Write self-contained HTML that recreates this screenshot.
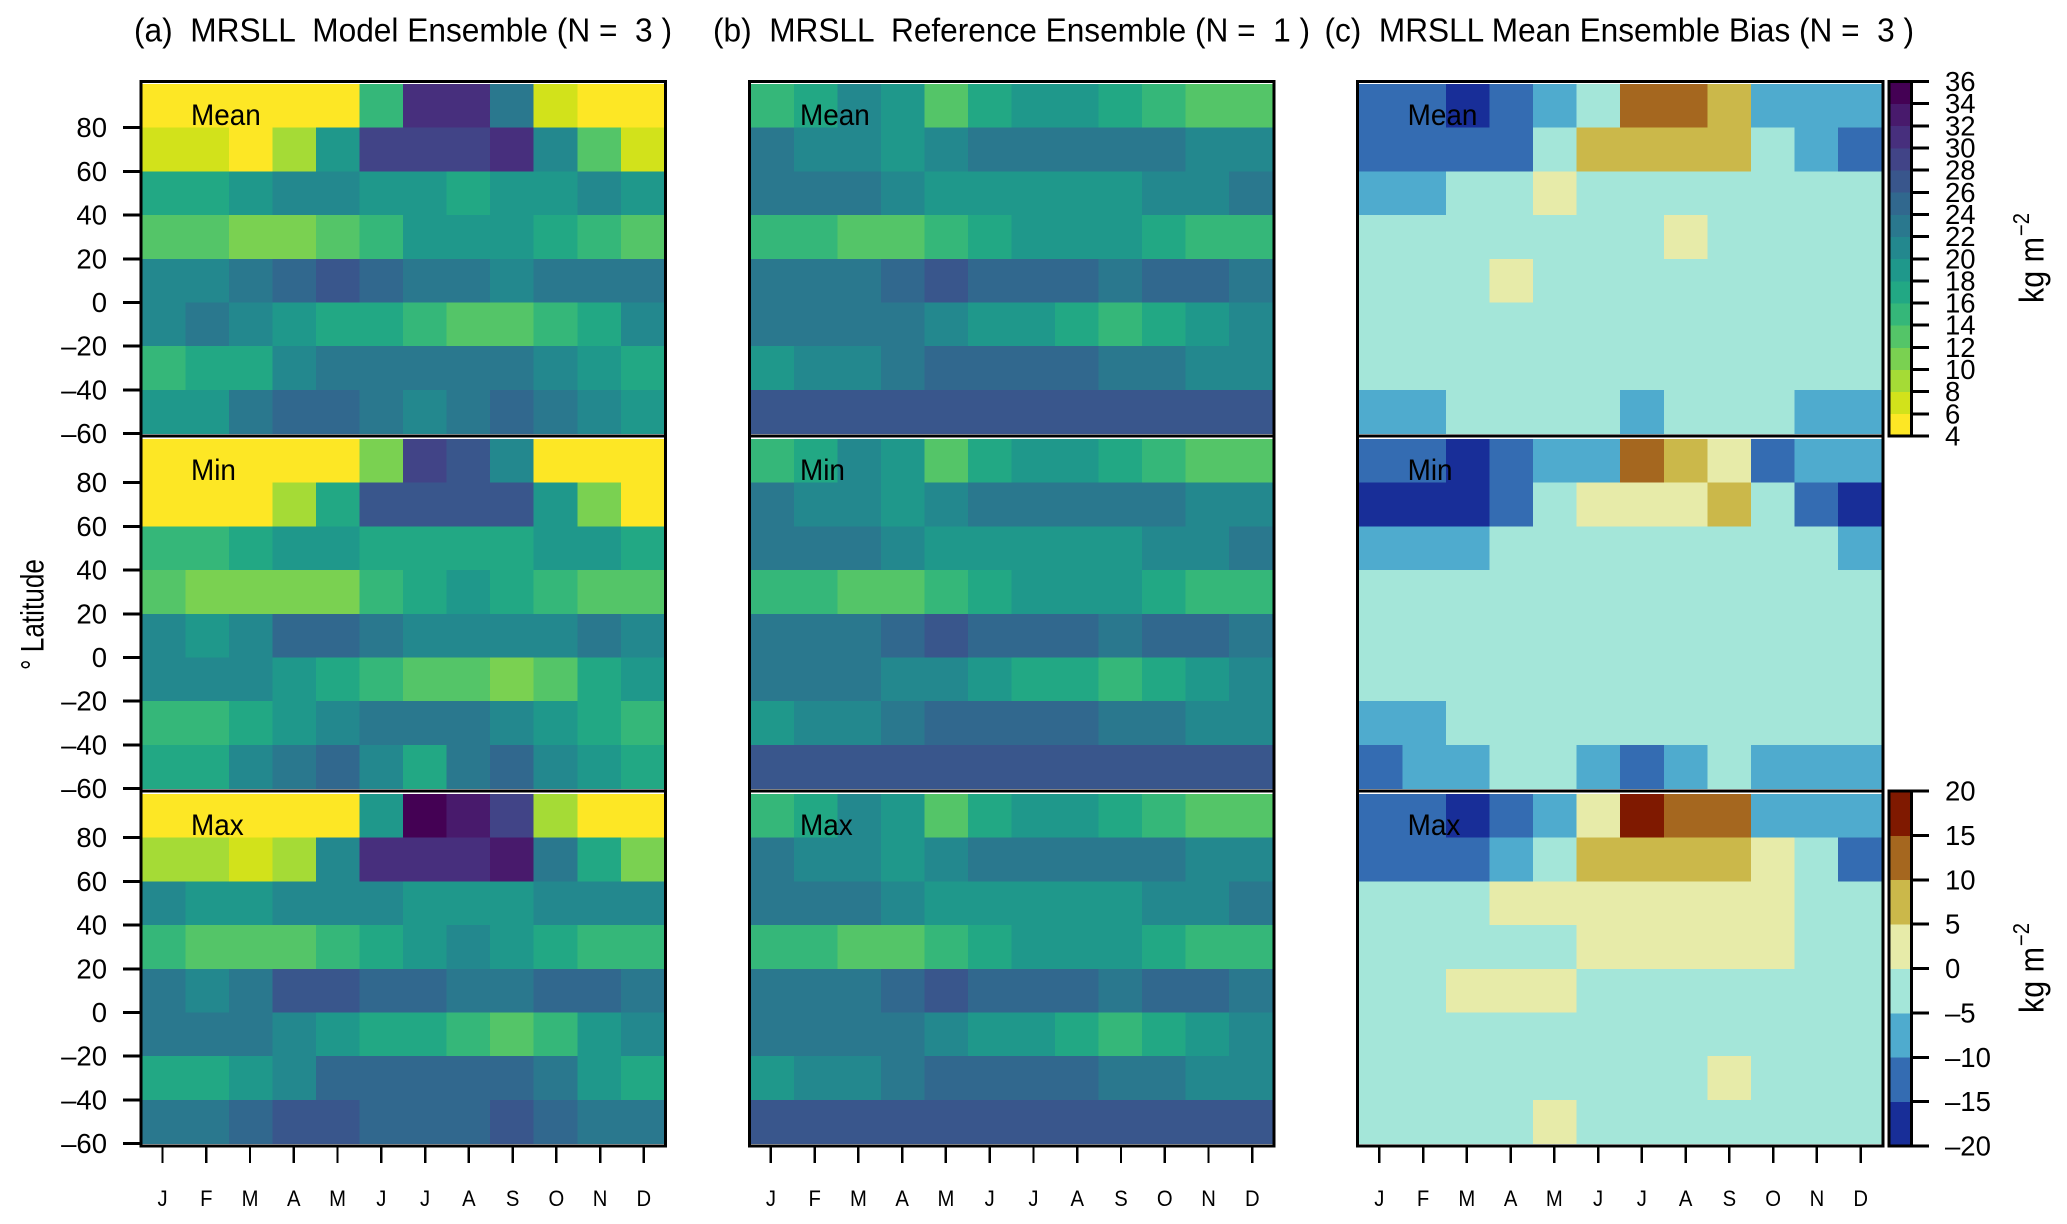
<!DOCTYPE html>
<html lang="en">
<head>
<meta charset="utf-8">
<title>MRSLL Ensemble Seasonal Latitude Plot</title>
<style>
html,body{margin:0;padding:0;background:#fff;}
svg{display:block;font-family:"Liberation Sans",Arial,sans-serif;fill:#000;}
text{white-space:pre;}
</style>
</head>
<body>
<svg id="chart" xmlns="http://www.w3.org/2000/svg" width="2067" height="1224" viewBox="0 0 2067 1224" shape-rendering="crispEdges">
  <rect x="0" y="0" width="2067" height="1224" fill="#fff"/>
  <text x="134" y="41.7" font-size="33" textLength="538" lengthAdjust="spacingAndGlyphs">(a)  MRSLL  Model Ensemble (N =  3 )</text>
  <text x="713" y="41.7" font-size="33" textLength="597" lengthAdjust="spacingAndGlyphs">(b)  MRSLL  Reference Ensemble (N =  1 )</text>
  <text x="1324.5" y="41.7" font-size="33" textLength="589.5" lengthAdjust="spacingAndGlyphs">(c)  MRSLL Mean Ensemble Bias (N =  3 )</text>
  <text x="43.5" y="670" transform="rotate(-90 43.5 670)" font-size="32" textLength="111" lengthAdjust="spacingAndGlyphs">° Latitude</text>
  <text x="2043.6" y="303" transform="rotate(-90 2043.6 303)" font-size="34" textLength="66" lengthAdjust="spacingAndGlyphs">kg m</text>
  <text x="2029" y="236" transform="rotate(-90 2029 236)" font-size="23" textLength="23" lengthAdjust="spacingAndGlyphs">−2</text>
  <text x="2043.6" y="1013" transform="rotate(-90 2043.6 1013)" font-size="34" textLength="66" lengthAdjust="spacingAndGlyphs">kg m</text>
  <text x="2029" y="946" transform="rotate(-90 2029 946)" font-size="23" textLength="23" lengthAdjust="spacingAndGlyphs">−2</text>
  <g id="layer"></g>
</svg>
<script>
const months = ['J','F','M','A','M','J','J','A','S','O','N','D'];
const latTicks = [80,60,40,20,0,-20,-40,-60];
const latBandTops = [100,80,60,40,20,0,-20,-40];
const statNames = ['Mean','Min','Max'];

const viridisColors = ['#FDE725','#D2E21B','#A5DB36','#7AD151','#54C568','#35B779','#22A884','#1F988B','#23888E','#2A788E','#31688E','#39568C','#414487','#472F7D','#481A6C','#440154'];
const absTicks = [36,34,32,30,28,26,24,22,20,18,16,14,12,10,8,6,4];
const biasColors = ['#182E98','#346CB2','#4FABCE','#A4E6D9','#E7EBA9','#CBB84A','#A5671F','#7F1900'];
const biasTicks = [20,15,10,5,0,-5,-10,-15,-20];

const modelMean = [
 [5,5,5,5,5,15,31,31,23,7,5,5],
 [7,7,5,9,19,29,29,29,31,21,13,7],
 [17,17,19,21,21,19,19,17,19,19,21,19],
 [13,13,11,11,13,15,19,19,19,17,15,13],
 [21,21,23,25,27,25,23,23,21,23,23,23],
 [21,23,21,19,17,17,15,13,13,15,17,21],
 [15,17,17,21,23,23,23,23,23,21,19,17],
 [19,19,23,25,25,23,21,23,25,23,21,19]
];
const modelMin = [
 [5,5,5,5,5,11,29,27,21,5,5,5],
 [5,5,5,9,17,27,27,27,27,19,11,5],
 [15,15,17,19,19,17,17,17,17,19,19,17],
 [13,11,11,11,11,15,17,19,17,15,13,13],
 [21,19,21,25,25,23,21,21,21,21,23,21],
 [21,21,21,19,17,15,13,13,11,13,17,19],
 [15,15,17,19,21,23,23,23,21,19,17,15],
 [17,17,21,23,25,21,17,23,25,21,19,17]
];
const modelMax = [
 [5,5,5,5,5,19,35,33,29,9,5,5],
 [9,9,7,9,21,31,31,31,33,23,17,11],
 [21,19,19,21,21,21,19,19,19,21,21,21],
 [15,13,13,13,15,17,19,21,19,17,15,15],
 [23,21,23,27,27,25,25,23,23,25,25,23],
 [23,23,23,21,19,17,17,15,13,15,19,21],
 [17,17,19,21,25,25,25,25,25,23,19,17],
 [23,23,25,27,27,25,25,25,27,25,23,23]
];
const refMean = [
 [15,17,21,19,13,17,19,19,17,15,13,13],
 [23,21,21,19,21,23,23,23,23,23,21,21],
 [23,23,23,21,19,19,19,19,19,21,21,23],
 [15,15,13,13,15,17,19,19,19,17,15,15],
 [23,23,23,25,27,25,25,25,23,25,25,23],
 [23,23,23,23,21,19,19,17,15,17,19,21],
 [19,21,21,23,25,25,25,25,23,23,21,21],
 [27,27,27,27,27,27,27,27,27,27,27,27]
];
const refMin = [
 [15,17,21,19,13,17,19,19,17,15,13,13],
 [23,21,21,19,21,23,23,23,23,23,21,21],
 [23,23,23,21,19,19,19,19,19,21,21,23],
 [15,15,13,13,15,17,19,19,19,17,15,15],
 [23,23,23,25,27,25,25,25,23,25,25,23],
 [23,23,23,21,21,19,17,17,15,17,19,21],
 [19,21,21,23,25,25,25,25,23,23,21,21],
 [27,27,27,27,27,27,27,27,27,27,27,27]
];
const refMax = [
 [15,17,21,19,13,17,19,19,17,15,13,13],
 [23,21,21,19,21,23,23,23,23,23,21,21],
 [23,23,23,21,19,19,19,19,19,21,21,23],
 [15,15,13,13,15,17,19,19,19,17,15,15],
 [23,23,23,25,27,25,25,25,23,25,25,23],
 [23,23,23,23,21,19,19,17,15,17,19,21],
 [19,21,21,23,25,25,25,25,23,23,21,21],
 [27,27,27,27,27,27,27,27,27,27,27,27]
];
const biasMean = [
 [-12.5,-12.5,-17.5,-12.5,-7.5,-2.5,12.5,12.5,7.5,-7.5,-7.5,-7.5],
 [-12.5,-12.5,-12.5,-12.5,-2.5,7.5,7.5,7.5,7.5,-2.5,-7.5,-12.5],
 [-7.5,-7.5,-2.5,-2.5,2.5,-2.5,-2.5,-2.5,-2.5,-2.5,-2.5,-2.5],
 [-2.5,-2.5,-2.5,-2.5,-2.5,-2.5,-2.5,2.5,-2.5,-2.5,-2.5,-2.5],
 [-2.5,-2.5,-2.5,2.5,-2.5,-2.5,-2.5,-2.5,-2.5,-2.5,-2.5,-2.5],
 [-2.5,-2.5,-2.5,-2.5,-2.5,-2.5,-2.5,-2.5,-2.5,-2.5,-2.5,-2.5],
 [-2.5,-2.5,-2.5,-2.5,-2.5,-2.5,-2.5,-2.5,-2.5,-2.5,-2.5,-2.5],
 [-7.5,-7.5,-2.5,-2.5,-2.5,-2.5,-7.5,-2.5,-2.5,-2.5,-7.5,-7.5]
];
const biasMin = [
 [-12.5,-12.5,-17.5,-12.5,-7.5,-7.5,12.5,7.5,2.5,-12.5,-7.5,-7.5],
 [-17.5,-17.5,-17.5,-12.5,-2.5,2.5,2.5,2.5,7.5,-2.5,-12.5,-17.5],
 [-7.5,-7.5,-7.5,-2.5,-2.5,-2.5,-2.5,-2.5,-2.5,-2.5,-2.5,-7.5],
 [-2.5,-2.5,-2.5,-2.5,-2.5,-2.5,-2.5,-2.5,-2.5,-2.5,-2.5,-2.5],
 [-2.5,-2.5,-2.5,-2.5,-2.5,-2.5,-2.5,-2.5,-2.5,-2.5,-2.5,-2.5],
 [-2.5,-2.5,-2.5,-2.5,-2.5,-2.5,-2.5,-2.5,-2.5,-2.5,-2.5,-2.5],
 [-7.5,-7.5,-2.5,-2.5,-2.5,-2.5,-2.5,-2.5,-2.5,-2.5,-2.5,-2.5],
 [-12.5,-7.5,-7.5,-2.5,-2.5,-7.5,-12.5,-7.5,-2.5,-7.5,-7.5,-7.5]
];
const biasMax = [
 [-12.5,-12.5,-17.5,-12.5,-7.5,2.5,17.5,12.5,12.5,-7.5,-7.5,-7.5],
 [-12.5,-12.5,-12.5,-7.5,-2.5,7.5,7.5,7.5,7.5,2.5,-2.5,-12.5],
 [-2.5,-2.5,-2.5,2.5,2.5,2.5,2.5,2.5,2.5,2.5,-2.5,-2.5],
 [-2.5,-2.5,-2.5,-2.5,-2.5,2.5,2.5,2.5,2.5,2.5,-2.5,-2.5],
 [-2.5,-2.5,2.5,2.5,2.5,-2.5,-2.5,-2.5,-2.5,-2.5,-2.5,-2.5],
 [-2.5,-2.5,-2.5,-2.5,-2.5,-2.5,-2.5,-2.5,-2.5,-2.5,-2.5,-2.5],
 [-2.5,-2.5,-2.5,-2.5,-2.5,-2.5,-2.5,-2.5,2.5,-2.5,-2.5,-2.5],
 [-2.5,-2.5,-2.5,-2.5,2.5,-2.5,-2.5,-2.5,-2.5,-2.5,-2.5,-2.5]
];

const NS = 'http://www.w3.org/2000/svg';
const layer = document.getElementById('layer');
function mk(tag, attrs, parent) {
  const el = document.createElementNS(NS, tag);
  for (const k in attrs) el.setAttribute(k, attrs[k]);
  (parent || layer).appendChild(el);
  return el;
}
const rowTop = [84, 439, 794];
const rowFrameTop = [81.5, 436, 791];
const rowHeight = 349.6;
const frameBottomLast = 1146;
const columns = [
  {frameL:141, frameR:665.5, imgL:142, imgR:664.3, tick0:162.5, labelX:191, scale:'abs', series:[modelMean,modelMin,modelMax], name:'model'},
  {frameL:749.5, frameR:1274, imgL:750.7, imgR:1272.6, tick0:770.9, labelX:800, scale:'abs', series:[refMean,refMin,refMax], name:'reference'},
  {frameL:1357.3, frameR:1883.2, imgL:1358.7, imgR:1881.7, tick0:1379.3, labelX:1407.6, scale:'bias', series:[biasMean,biasMin,biasMax], name:'bias'}
];
const tickStep = 43.76;

function absColor(v) {
  const i = Math.floor((v - 4) / 2);
  return viridisColors[Math.max(0, Math.min(viridisColors.length - 1, i))];
}
function biasColor(v) {
  const i = Math.floor((v + 20) / 5);
  return biasColors[Math.max(0, Math.min(biasColors.length - 1, i))];
}
function latToY(lat, r) {
  return rowTop[r] + (100 - lat) * rowHeight / 160;
}
function monthToX(m, c) {
  return c.imgL + m * (c.imgR - c.imgL) / 12;
}
function numLabel(n) {
  return n < 0 ? '\u2013' + Math.abs(n) : String(n);
}

columns.forEach(function (col) {
  col.series.forEach(function (grid, r) {
    grid.forEach(function (rowVals, b) {
      rowVals.forEach(function (v, m) {
        const x0 = monthToX(m, col), x1 = monthToX(m + 1, col);
        const y0 = latToY(latBandTops[b], r), y1 = latToY(latBandTops[b] - 20, r);
        const fill = col.scale === 'abs' ? absColor(v) : biasColor(v);
        const cell = mk('rect', {x:x0, y:y0, width:x1 - x0 + 0.4, height:y1 - y0 + 0.4, fill:fill});
        
        
      });
    });
    const frameB = r === 2 ? frameBottomLast : rowFrameTop[r + 1];
    const frame = mk('rect', {x:col.frameL, y:rowFrameTop[r], width:col.frameR - col.frameL, height:frameB - rowFrameTop[r], fill:'none', stroke:'#000', 'stroke-width':3});
    
    
    const lab = mk('text', {transform:'translate(' + col.labelX + ',' + (latToY(100, r) + 41) + ') scale(0.93,1)', 'font-size':30});
    lab.textContent = statNames[r];
    
    
  });
  months.forEach(function (name, m) {
    const x = col.tick0 + m * tickStep;
    const t = mk('line', {x1:x, x2:x, y1:frameBottomLast, y2:1163, stroke:'#000', 'stroke-width':2.4});
    
    
    const l = mk('text', {transform:'translate(' + x + ',1206) scale(0.9,1)', 'font-size':22.5, 'text-anchor':'middle'});
    l.textContent = name;
    
    
  });
});

[0, 1, 2].forEach(function (r) {
  latTicks.forEach(function (lat) {
    const y = latToY(lat, r);
    const t = mk('line', {x1:123, x2:141, y1:y, y2:y, stroke:'#000', 'stroke-width':3});
    
    
    const l = mk('text', {x:107, y:y + 9.5, 'font-size':27.5, 'text-anchor':'end'});
    l.textContent = numLabel(lat);
    
    
  });
});

function drawColorbar(top, bottom, ticks, colors, name) {
  const left = 1889, right = 1911.5;
  const h = (bottom - top) / colors.length;
  colors.forEach(function (c, i) {
    const seg = mk('rect', {x:left, y:bottom - (i + 1) * h, width:right - left, height:h + 0.4, fill:c});
    
    
  });
  const frame = mk('rect', {x:left, y:top, width:right - left, height:bottom - top, fill:'none', stroke:'#000', 'stroke-width':3});
  
  
  const tMax = ticks[0], tMin = ticks[ticks.length - 1];
  ticks.forEach(function (v) {
    const y = bottom - (v - tMin) / (tMax - tMin) * (bottom - top);
    const t = mk('line', {x1:right, x2:1929, y1:y, y2:y, stroke:'#000', 'stroke-width':3});
    
    
    const l = mk('text', {x:1945, y:y + 9.5, 'font-size':27.5});
    l.textContent = numLabel(v);
    
    
  });
}
drawColorbar(81.5, 436, absTicks, viridisColors, 'colorbar-absolute');
drawColorbar(791, 1146, biasTicks, biasColors, 'colorbar-bias');
</script>
</body>
</html>
